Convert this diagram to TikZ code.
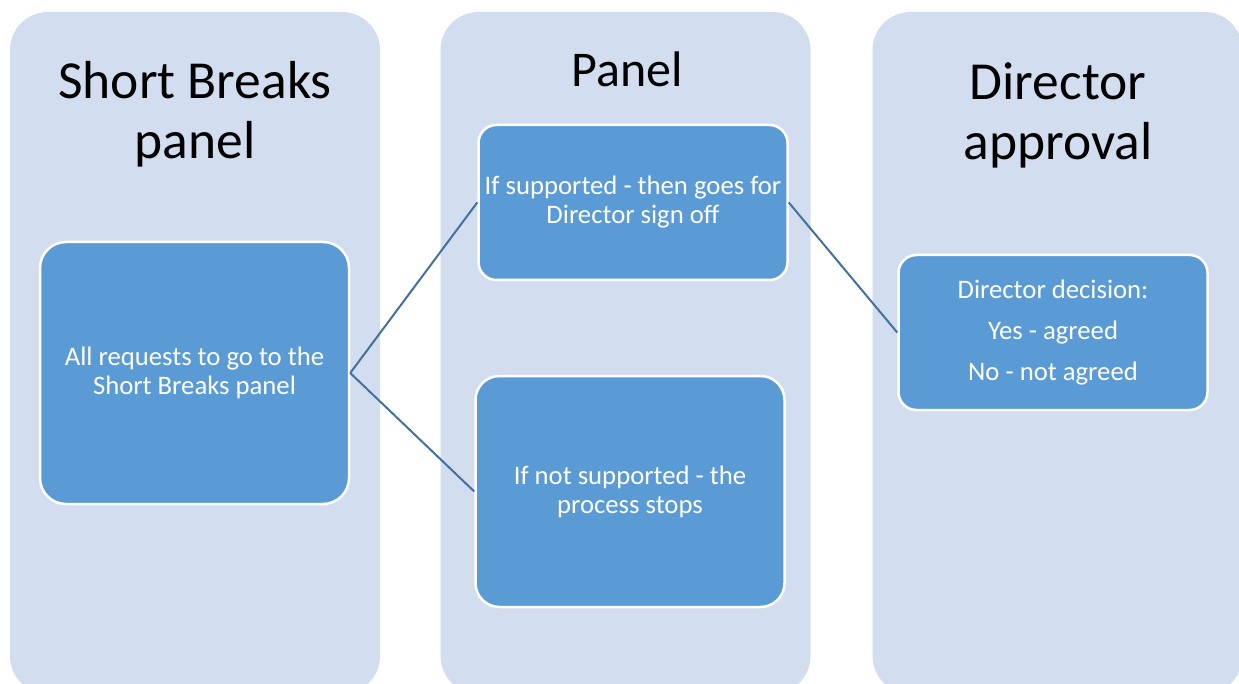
\documentclass[tikz,border=0pt]{standalone}
\usepackage{fontspec}
\setmainfont{Carlito}
\definecolor{colbg}{HTML}{D2DEEF}
\definecolor{boxfill}{HTML}{5B9BD5}
\definecolor{linkc}{HTML}{41719C}
\begin{document}
\begin{tikzpicture}[x=1pt,y=-1pt,
  column/.style={fill=colbg, draw=none, rounded corners=38pt, minimum width=370pt, minimum height=682pt, inner sep=0pt},
  title/.style={font=\fontsize{53.5}{60}\selectfont, align=center, text=black, inner sep=0pt},
  stepbox/.style={fill=boxfill, draw=white, line width=2.5pt, text=white, align=center, font=\fontsize{26.7}{29}\selectfont, inner sep=0pt, minimum width=309pt},
  link/.style={draw=linkc, line width=2pt}]
\useasboundingbox (0,0) rectangle (1239,684);
\clip (0,0) rectangle (1239,684);
\node[column] (col1) at (195,353) {};
\node[column] (col2) at (625.5,353) {};
\node[column] (col3) at (1057.5,353) {};
\node[title, anchor=base] (t1) at (195,159) {Short Breaks\\panel};
\node[title, anchor=base, font=\fontsize{50}{50}\selectfont] (t2) at (627,87) {Panel};
\node[title, anchor=base] (t3) at (1058,160) {Director\\approval};
\node[stepbox, minimum height=262pt, rounded corners=26pt] (b1) at (194.5,373) {All requests to go to the\\Short Breaks panel};
\node[stepbox, minimum height=155pt, rounded corners=18pt] (b2) at (633,202.5) {If supported - then goes for\\Director sign off};
\node[stepbox, minimum height=231pt, rounded corners=24pt] (b3) at (630,491.5) {If not supported - the\\process stops};
\node[stepbox, minimum height=155pt, rounded corners=18pt] (b4) at (1053,332.5) {Director decision:\\[12pt]Yes - agreed\\[12pt]No - not agreed};
\draw[link] (b1.east) -- (b2.west);
\draw[link] (b1.east) -- (b3.west);
\draw[link] (b2.east) -- (b4.west);
\end{tikzpicture}
\end{document}
